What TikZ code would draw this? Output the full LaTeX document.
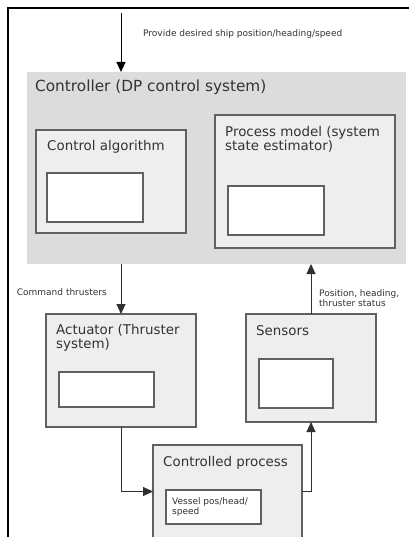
\documentclass[tikz,border=0pt]{standalone}
\usepackage{fontspec}
\setmainfont{DejaVu Sans}
\usetikzlibrary{arrows.meta,calc}
\definecolor{ctrlfill}{HTML}{DCDCDC}
\definecolor{boxfill}{HTML}{EEEEEE}
\definecolor{boxline}{HTML}{606060}
\definecolor{txt}{HTML}{333333}
\definecolor{lin}{HTML}{303030}
\begin{document}
\begin{tikzpicture}[x=1pt,y=-1pt,
  box/.style={draw=boxline, fill=boxfill, line width=1.1pt, inner sep=0pt, outer sep=0pt, anchor=north west},
  inbox/.style={draw=boxline, fill=white, line width=1.1pt, inner sep=0pt, outer sep=0pt, anchor=north west},
  title/.style={font=\fontsize{13.4}{14}\selectfont, text=txt, inner sep=0pt, align=left},
  small/.style={font=\fontsize{9}{10.5}\selectfont, text=txt, inner sep=0pt, align=left},
  conn/.style={draw=lin, line width=0.9pt, -{Triangle[width=9pt,length=10pt]}}]
\useasboundingbox (0,0) rectangle (409,537);
\clip (0,0) rectangle (409,537);
\fill[white] (0,0) rectangle (409,537);
% frame
\draw[line width=2pt] (8,537) -- (8,8) -- (409,8);
% controller
\node[box, fill=ctrlfill, draw=none, minimum width=379pt, minimum height=192pt] (ctrl) at (27,72) {};
\node[title, font=\fontsize{15.3}{17}\selectfont, anchor=base west] (ctrlt) at (35,92) {Controller (DP control system)};
% control algorithm
\node[box, minimum width=150pt, minimum height=103pt] (ca) at (36,130) {};
\node[inbox, minimum width=96pt, minimum height=49pt] (cai) at (47,173) {};
\node[title, anchor=base west] (cat) at (47,151) {Control algorithm};
% process model
\node[box, minimum width=180pt, minimum height=133pt] (pm) at (215,115) {};
\node[inbox, minimum width=96pt, minimum height=49pt] (pmi) at (228,186) {};
\node[title, anchor=north west] (pmt) at (225,126) {Process model (system\\state estimator)};
% actuator
\node[box, minimum width=150pt, minimum height=113pt] (act) at (46,314) {};
\node[inbox, minimum width=95pt, minimum height=35pt] (acti) at (59,372) {};
\node[title, anchor=north west] (actt) at (56,324) {Actuator (Thruster\\system)};
% sensors
\node[box, minimum width=130pt, minimum height=108pt] (sen) at (246,314) {};
\node[inbox, minimum width=74pt, minimum height=49pt] (seni) at (259,359) {};
\node[title, anchor=base west] (sent) at (256,335) {Sensors};
% controlled process
\node[box, minimum width=149pt, minimum height=93pt] (cp) at (153,445) {};
\node[inbox, minimum width=95pt, minimum height=34pt] (cpi) at (166,490) {};
\node[title, anchor=base west] (cpt) at (163,466) {Controlled process};
\node[small, anchor=north west] (cpit) at (172,497) {Vessel pos/head/\\speed};
% labels
\node[small, anchor=base west] (l1) at (143,37) {Provide desired ship position/heading/speed};
\node[small, anchor=base east] (l2) at (107,295) {Command thrusters};
\node[small, anchor=north west] (l3) at (319,289) {Position, heading,\\thruster status};
% connectors
\coordinate (in) at (121,13);
\draw[conn, draw=black] (in) -- (in |- ctrl.north);
\draw[conn] (act.north |- ctrl.south) -- (act.north);
\draw[conn] (sen.north) -- (sen.north |- ctrl.south);
\draw[conn] (act.south) |- (cp.west);
\draw[conn] (cp.east) -| (sen.south);
\end{tikzpicture}
\end{document}
